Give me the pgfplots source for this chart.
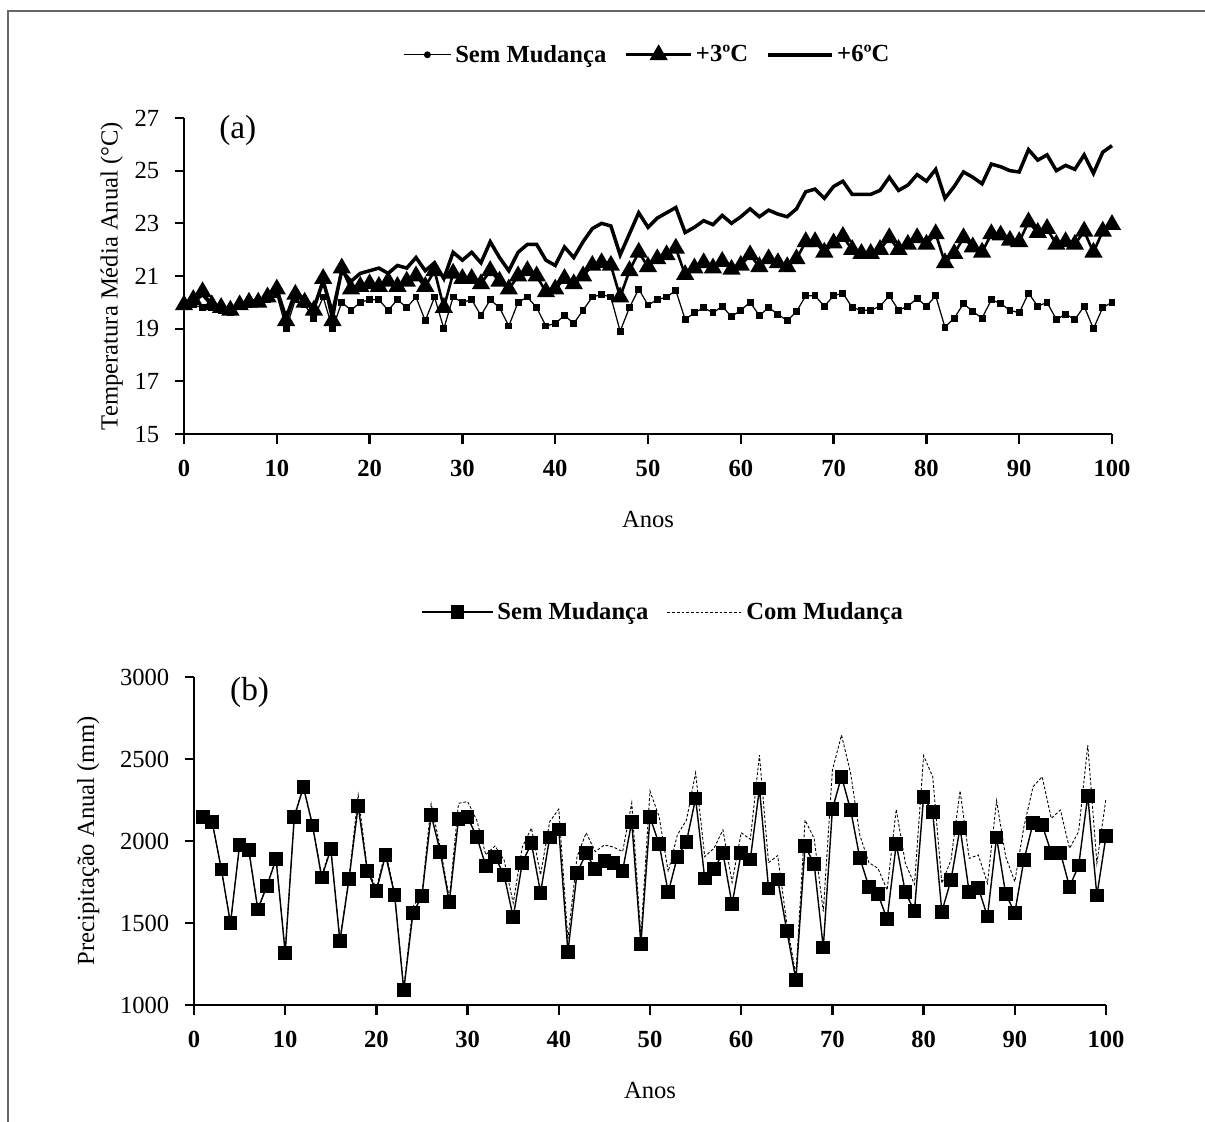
\documentclass[border=0pt]{standalone}
\usepackage{fontspec}
\setmainfont{Liberation Serif}
\usepackage{pgfplots}
\usepackage{pgfplotstable}
\pgfplotsset{compat=1.18}

% temperatura media anual: ano, sem mudanca, +3, +6
\pgfplotstableread{
t sem p3 p6
0 19.9 19.9 19.9
1 19.9 20.1 20.0
2 19.8 20.4 20.3
3 19.8 19.9 19.9
4 19.7 19.8 19.8
5 19.6 19.7 19.7
6 19.9 19.9 19.9
7 19.9 20.0 20.0
8 20.0 20.0 20.1
9 20.1 20.2 20.2
10 20.3 20.5 20.5
11 19.0 19.3 19.4
12 20.1 20.3 20.4
13 19.9 20.0 20.1
14 19.4 19.7 19.8
15 20.2 20.9 20.8
16 19.0 19.3 19.6
17 20.0 21.3 21.2
18 19.7 20.5 20.8
19 20.0 20.6 21.1
20 20.1 20.7 21.2
21 20.1 20.6 21.3
22 19.7 20.8 21.1
23 20.1 20.6 21.4
24 19.8 20.8 21.3
25 20.2 21.0 21.7
26 19.3 20.6 21.2
27 20.2 21.2 21.5
28 19.0 19.8 20.9
29 20.2 21.1 21.9
30 20.0 20.9 21.6
31 20.1 20.9 21.9
32 19.5 20.7 21.5
33 20.1 21.2 22.3
34 19.8 20.8 21.7
35 19.1 20.5 21.2
36 20.0 21.0 21.9
37 20.2 21.2 22.2
38 19.8 21.0 22.2
39 19.1 20.4 21.6
40 19.2 20.5 21.4
41 19.5 20.9 22.1
42 19.2 20.7 21.7
43 19.7 21.0 22.3
44 20.2 21.4 22.8
45 20.3 21.5 23.0
46 20.2 21.4 22.9
47 18.9 20.2 21.8
48 19.8 21.2 22.6
49 20.5 21.9 23.4
50 19.9 21.35 22.85
51 20.1 21.65 23.2
52 20.2 21.8 23.4
53 20.45 22.05 23.6
54 19.35 21.05 22.65
55 19.6 21.3 22.85
56 19.8 21.5 23.1
57 19.6 21.3 22.95
58 19.85 21.55 23.3
59 19.45 21.25 23.0
60 19.7 21.4 23.25
61 20.0 21.8 23.55
62 19.5 21.35 23.25
63 19.8 21.65 23.5
64 19.55 21.5 23.35
65 19.3 21.35 23.25
66 19.65 21.65 23.55
67 20.25 22.3 24.2
68 20.25 22.3 24.3
69 19.85 21.9 23.95
70 20.25 22.25 24.4
71 20.35 22.5 24.6
72 19.8 22.0 24.1
73 19.7 21.85 24.1
74 19.7 21.85 24.1
75 19.85 22.0 24.25
76 20.25 22.45 24.75
77 19.7 22.0 24.25
78 19.85 22.2 24.45
79 20.15 22.45 24.85
80 19.85 22.2 24.6
81 20.25 22.6 25.05
82 19.05 21.5 23.95
83 19.4 21.85 24.4
84 19.95 22.45 24.95
85 19.65 22.1 24.75
86 19.4 21.9 24.5
87 20.1 22.6 25.25
88 19.95 22.55 25.15
89 19.7 22.35 25.0
90 19.6 22.3 24.95
91 20.35 23.05 25.8
92 19.85 22.65 25.4
93 20.0 22.8 25.6
94 19.35 22.2 25.0
95 19.55 22.3 25.2
96 19.35 22.2 25.05
97 19.85 22.7 25.6
98 19.0 21.9 24.9
99 19.8 22.7 25.7
100 20.0 22.95 25.95
}\temp

% precipitacao anual (mm): ano, sem mudanca, com mudanca
\pgfplotstableread{
t sem com
1 2145 2145
2 2114 2114
3 1827 1830
4 1498 1500
5 1976 1980
6 1945 1950
7 1583 1590
8 1726 1730
9 1890 1895
10 1319 1325
11 2148 2155
12 2328 2335
13 2094 2100
14 1778 1790
15 1951 1960
16 1390 1400
17 1768 1780
18 2215 2280
19 1819 1830
20 1695 1710
21 1915 1940
22 1671 1680
23 1091 1100
24 1559 1600
25 1665 1680
26 2159 2226
27 1935 1960
28 1626 1650
29 2134 2230
30 2145 2240
31 2026 2128
32 1848 1915
33 1904 1970
34 1793 1884
35 1535 1622
36 1868 1963
37 1986 2079
38 1685 1793
39 2022 2118
40 2071 2195
41 1325 1400
42 1807 1904
43 1925 2050
44 1829 1935
45 1878 1976
46 1868 1963
47 1819 1935
48 2118 2232
49 1370 1420
50 2145 2305
51 1982 2148
52 1687 1813
53 1904 2037
54 1996 2128
55 2260 2416
56 1772 1904
57 1829 1955
58 1925 2067
59 1614 1748
60 1929 2051
61 1888 2010
62 2321 2524
63 1711 1868
64 1766 1911
65 1453 1498
66 1152 1183
67 1970 2128
68 1860 2016
69 1350 1570
70 2195 2433
71 2392 2646
72 2189 2413
73 1898 2037
74 1721 1868
75 1675 1833
76 1524 1701
77 1982 2193
78 1687 1864
79 1573 1736
80 2270 2520
81 2175 2392
82 1569 1742
83 1762 1884
84 2081 2307
85 1687 1894
86 1715 1915
87 1539 1742
88 2022 2246
89 1677 1904
90 1563 1752
91 1884 2087
92 2108 2331
93 2098 2392
94 1929 2138
95 1929 2189
96 1721 1955
97 1850 2057
98 2276 2585
99 1667 1864
100 2030 2260
}\prec

\pgfplotsset{
  painel/.style={
    scale only axis,
    axis lines*=left,
    axis line style={line width=1.4pt},
    tick align=outside,
    major tick length=0.19cm,
    tick style={line width=1.3pt, black},
    xmin=0, xmax=100,
    xtick={0,10,...,100},
    /pgf/number format/assume math mode=true,
    /pgf/number format/set thousands separator={},
    xticklabel style={font=\fontsize{14}{16}\selectfont\bfseries, yshift=-0.2cm},
    yticklabel style={font=\fontsize{14}{16}\selectfont, xshift=-0.18cm},
    label style={font=\fontsize{14}{16}\selectfont},
    legend style={draw=none, fill=none, font=\fontsize{14}{16}\selectfont\bfseries,
      /tikz/every even column/.append style={column sep=0.3cm}},
    legend cell align=left,
    clip=false,
  },
  linha/.style={legend image code/.code={%
    \draw[##1] (0cm,0cm) -- (#1,0cm);}},
  linhamarca/.style={legend image code/.code={%
    \draw[##1, mark=none] (0cm,0cm) -- (#1,0cm);
    \draw[##1] plot coordinates {(0.5*#1,0cm)};}},
}

\begin{document}
\begin{tikzpicture}
\path[use as bounding box] (0,0) rectangle (24.1,-22.44);
\draw[black!60, line width=0.8pt] (0.16,-22.44) -- (0.16,-0.22) -- (24.1,-0.22);

% (a) temperatura
\begin{axis}[painel,
  at={(3.68cm,-8.68cm)}, anchor=south west,
  width=18.56cm, height=6.32cm,
  ymin=15, ymax=27, ytick={15,17,...,27},
  xlabel={Anos},
  ylabel={Temperatura Média Anual (°C)},
  xlabel style={at={(axis description cs:0.5,-0.27)}, anchor=center},
  ylabel style={at={(axis description cs:-0.078,0.5)}, anchor=center},
  legend columns=3,
  legend style={at={(0.5,1.2)}, anchor=center},
]
  \addplot[black, line width=0.7pt, mark=square*, mark size=1.6pt,
    legend image code/.code={%
      \draw[black, line width=0.7pt] (0cm,0cm) -- (0.95cm,0cm);
      \fill[black] (0.475cm,0cm) circle (1.6pt);}] table[x=t, y=sem] {\temp};
  \addplot[black, line width=1.5pt, mark=triangle*, mark size=4.5pt,
    linhamarca=1.3cm] table[x=t, y=p3] {\temp};
  \addplot[black, line width=2pt, linha=1.27cm] table[x=t, y=p6] {\temp};
  \legend{Sem Mudança, +3ºC, +6ºC}
  \node[font=\fontsize{19}{21}\selectfont] at (axis description cs:0.058,0.962) {(a)};
\end{axis}

% (b) precipitacao
\begin{axis}[painel,
  at={(3.88cm,-20.10cm)}, anchor=south west,
  width=18.24cm, height=6.56cm,
  ymin=1000, ymax=3000, ytick={1000,1500,...,3000},
  xlabel={Anos},
  ylabel={Precipitação Anual (mm)},
  xlabel style={at={(axis description cs:0.5,-0.26)}, anchor=center},
  ylabel style={at={(axis description cs:-0.116,0.5)}, anchor=center},
  legend columns=2,
  legend style={at={(0.515,1.198)}, anchor=center},
]
  \addplot[black, line width=0.8pt, mark=square*, mark size=3.5pt,
    linhamarca=1.43cm] table[x=t, y=sem] {\prec};
  \addplot[black, line width=0.5pt, dash pattern=on 1.6pt off 1.1pt,
    linha=1.5cm] table[x=t, y=com] {\prec};
  \legend{Sem Mudança, Com Mudança}
  \node[font=\fontsize{19}{21}\selectfont] at (axis description cs:0.061,0.954) {(b)};
\end{axis}
\end{tikzpicture}
\end{document}
